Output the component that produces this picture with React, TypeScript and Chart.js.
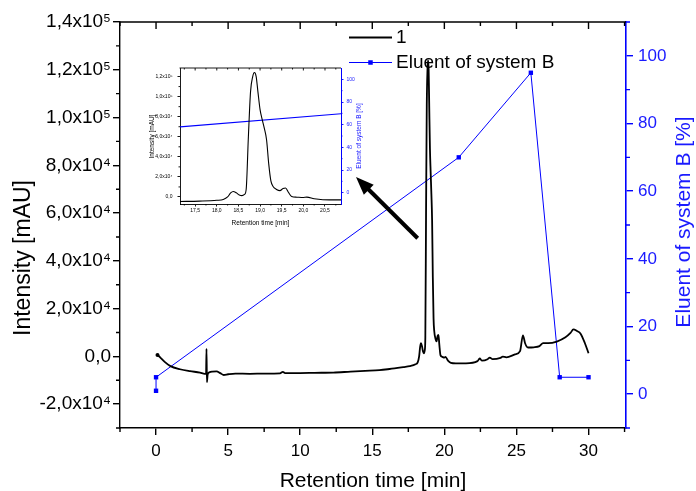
import React, { useEffect, useRef } from 'react';
import { Chart, registerables } from 'chart.js';

Chart.register(...registerables);

const FONT = '"Liberation Sans", Arial, Helvetica, sans-serif';
const BLUE = '#0000ff';
const BLUE_TEXT = '#1a1aff';

// ---------- data ----------
const seriesLabels = ['1', 'Eluent of system B'];

// chromatogram (retention time [min], intensity [mAU])
const chromTime = [
  0.1, 0.3, 0.6, 1.0, 1.66, 2.36, 3.05, 3.38, 3.47, 3.5, 3.53, 3.58, 3.7, 3.9, 4.2, 4.45, 4.7, 5.0, 5.5,
  6.5, 7.5, 8.6, 8.8, 8.95, 10.0, 11.0, 12.3, 13.5, 14.5, 15.5, 16.2, 17.15, 17.6, 18.0, 18.15, 18.25,
  18.32, 18.38, 18.45, 18.52, 18.58, 18.64, 18.68, 18.73, 18.78, 18.83, 18.87, 18.91, 18.95, 19.0, 19.05,
  19.1, 19.15, 19.2, 19.25, 19.3, 19.38, 19.46, 19.53, 19.59, 19.65, 19.73, 19.85, 20.0, 20.08, 20.25,
  20.45, 20.8, 21.5, 22.3, 22.45, 22.6, 23.0, 23.15, 23.35, 23.9, 24.05, 24.3, 24.9, 25.25, 25.45, 25.6,
  25.8, 26.2, 26.6, 26.85, 27.2, 27.8, 28.4, 28.75, 28.95, 29.2, 29.45, 29.75, 30.0,
];
const chromIntensity = [
  600, -500, -2300, -4100, -5400, -6200, -6800, -7300, -7300, 3100, -10800, -7600, -6700, -6400, -6300,
  -7000, -7800, -7500, -7200, -7300, -7200, -7100, -6500, -7000, -7000, -6900, -6800, -6400, -6100, -5800,
  -5300, -4500, -4100, -3300, -2500, 0, 4000, 5500, 4200, 2000, 1300, 2500, 8000, 60000, 105000, 120000,
  124000, 120000, 105000, 87000, 77000, 68000, 57000, 33000, 16000, 10500, 7500, 6300, 8500, 9000, 5000,
  500, -200, -500, -200, -1800, -2700, -2900, -2900, -2000, -900, -1800, -1200, -500, -1200, -600, -100,
  -400, 800, 2200, 8800, 5500, 3700, 3800, 4300, 5500, 5500, 6200, 8000, 9800, 11300, 10600, 9500, 5500,
  1300,
];

// eluent gradient (time [min], % B)
const eluentTime = [0, 0, 21, 26, 28, 30];
const eluentPercent = [1, 5, 70, 95, 5, 5];

// ---------- axes ----------
const axisTitleX = 'Retention time [min]';
const axisTitleY = 'Intensity [mAU]';
const axisTitleY2 = 'Eluent of system B [%]';

const xTicks = [0, 5, 10, 15, 20, 25, 30];
const xTickLabels = ['0', '5', '10', '15', '20', '25', '30'];
const xMinorTicks = [-2.5, 2.5, 7.5, 12.5, 17.5, 22.5, 27.5, 32.5];
const yTicks = [-20000, 0, 20000, 40000, 60000, 80000, 100000, 120000, 140000];
const yTickLabels = ['-2,0x10⁴', '0,0', '2,0x10⁴', '4,0x10⁴', '6,0x10⁴', '8,0x10⁴', '1,0x10⁵', '1,2x10⁵', '1,4x10⁵'];
const yMinorTicks = [-30000, -10000, 10000, 30000, 50000, 70000, 90000, 110000, 130000];
const y2Ticks = [0, 20, 40, 60, 80, 100];
const y2TickLabels = ['0', '20', '40', '60', '80', '100'];
const y2MinorTicks = [-10, 10, 30, 50, 70, 90, 110];

const insetXTicks = [17.5, 18, 18.5, 19, 19.5, 20, 20.5];
const insetXTickLabels = ['17,5', '18,0', '18,5', '19,0', '19,5', '20,0', '20,5'];
const insetXMinorTicks = [17.25, 17.75, 18.25, 18.75, 19.25, 19.75, 20.25, 20.75];
const insetYTicks = [0, 20000, 40000, 60000, 80000, 100000, 120000];
const insetYTickLabels = ['0,0', '2,0x10⁴', '4,0x10⁴', '6,0x10⁴', '8,0x10⁴', '1,0x10⁵', '1,2x10⁵'];
const insetYMinorTicks = [10000, 30000, 50000, 70000, 90000, 110000];
const insetY2MinorTicks = [10, 30, 50, 70, 90];

// arrow annotation (data coordinates: [time, intensity])
const arrowFrom = [18.15, 49450];
const arrowTo = [13.87, 75100];

// ---------- plugins ----------
function vText(ctx: CanvasRenderingContext2D, text: string, x: number, y: number, size: number, color: string) {
  ctx.save();
  ctx.translate(x, y);
  ctx.rotate(-Math.PI / 2);
  ctx.font = `${size}px ${FONT}`;
  ctx.fillStyle = color;
  ctx.textAlign = 'center';
  ctx.textBaseline = 'alphabetic';
  ctx.fillText(text, 0, 0);
  ctx.restore();
}

const originFrame = {
  id: 'originFrame',
  afterDraw(chart: any, _args: any, o: any) {
    const { ctx, chartArea: a } = chart;
    const sx = chart.scales.x;
    const sy = chart.scales.y;
    const sy2 = chart.scales.y2;
    ctx.save();
    ctx.lineWidth = o.lw;
    ctx.strokeStyle = '#000';
    ctx.beginPath();
    ctx.moveTo(a.left - o.lw / 2, a.top);
    ctx.lineTo(a.right, a.top);
    for (const v of o.xMinor) {
      const p = sx.getPixelForValue(v);
      if (p < a.left - 0.5 || p > a.right + 0.5) continue;
      ctx.moveTo(p, a.bottom);
      ctx.lineTo(p, a.bottom + o.minor);
      ctx.moveTo(p, a.top);
      ctx.lineTo(p, a.top + o.minor);
    }
    for (const v of o.xMajor) {
      const p = sx.getPixelForValue(v);
      ctx.moveTo(p, a.top);
      ctx.lineTo(p, a.top + o.major);
    }
    for (const v of o.yMinor) {
      const p = sy.getPixelForValue(v);
      if (p < a.top - 0.5 || p > a.bottom + 0.5) continue;
      ctx.moveTo(a.left, p);
      ctx.lineTo(a.left - o.minor, p);
    }
    ctx.stroke();
    ctx.strokeStyle = BLUE;
    ctx.beginPath();
    for (const v of o.y2Minor) {
      const p = sy2.getPixelForValue(v);
      if (p < a.top - 0.5 || p > a.bottom + 0.5) continue;
      ctx.moveTo(a.right, p);
      ctx.lineTo(a.right + o.minor, p);
    }
    ctx.stroke();

    // axis titles
    const t = o.titles;
    ctx.fillStyle = '#000';
    ctx.font = `${t.x.size}px ${FONT}`;
    ctx.textAlign = 'center';
    ctx.textBaseline = 'alphabetic';
    ctx.fillText(t.x.text, t.x.cx, t.x.base);
    vText(ctx, t.y.text, t.y.base, t.y.cy, t.y.size, '#000');
    vText(ctx, t.y2.text, t.y2.base, t.y2.cy, t.y2.size, BLUE_TEXT);

    // legend
    if (o.legend) {
      const L = o.legend;
      chart.data.datasets.forEach((ds: any, i: number) => {
        const y = L.y[i];
        ctx.strokeStyle = ds.borderColor;
        ctx.lineWidth = ds.borderWidth;
        ctx.beginPath();
        ctx.moveTo(L.x0, y);
        ctx.lineTo(L.x1, y);
        ctx.stroke();
        if (ds.pointStyle === 'rect') {
          const s = L.marker;
          ctx.fillStyle = ds.borderColor;
          ctx.fillRect((L.x0 + L.x1) / 2 - s / 2, y - s / 2, s, s);
        }
        ctx.fillStyle = '#000';
        ctx.font = `${L.size}px ${FONT}`;
        ctx.textAlign = 'left';
        ctx.textBaseline = 'middle';
        ctx.fillText(ds.label, L.tx, y + 0.5);
      });
    }

    // arrow
    if (o.arrow) {
      const x0 = sx.getPixelForValue(arrowFrom[0]);
      const y0 = sy.getPixelForValue(arrowFrom[1]);
      const x1 = sx.getPixelForValue(arrowTo[0]);
      const y1 = sy.getPixelForValue(arrowTo[1]);
      const ang = Math.atan2(y1 - y0, x1 - x0);
      const hl = o.arrow.head;
      const hw = o.arrow.headW;
      const bx = x1 - hl * Math.cos(ang);
      const by = y1 - hl * Math.sin(ang);
      ctx.strokeStyle = '#000';
      ctx.lineWidth = o.arrow.width;
      ctx.beginPath();
      ctx.moveTo(x0, y0);
      ctx.lineTo(bx + 2 * Math.cos(ang), by + 2 * Math.sin(ang));
      ctx.stroke();
      ctx.fillStyle = '#000';
      ctx.beginPath();
      ctx.moveTo(x1, y1);
      ctx.lineTo(bx + hw * Math.sin(ang), by - hw * Math.cos(ang));
      ctx.lineTo(bx - hw * Math.sin(ang), by + hw * Math.cos(ang));
      ctx.closePath();
      ctx.fill();
    }
    ctx.restore();
  },
};

function fixedTicks(values: number[]) {
  return (s: any) => {
    s.ticks = values.map((v) => ({ value: v }));
  };
}

function makeDatasets(inset: boolean) {
  return [
    {
      label: seriesLabels[0],
      data: chromTime.map((t, i) => ({ x: t, y: chromIntensity[i] })),
      borderColor: '#000',
      backgroundColor: '#000',
      borderWidth: inset ? 1.1 : 1.8,
      pointRadius: (c: any) => (!inset && c.dataIndex === 0 ? 2 : 0),
      pointBorderWidth: 0,
      cubicInterpolationMode: 'monotone',
      yAxisID: 'y',
    },
    {
      label: seriesLabels[1],
      data: eluentTime.map((t, i) => ({ x: t, y: eluentPercent[i] })),
      borderColor: BLUE,
      backgroundColor: BLUE,
      borderWidth: inset ? 1.1 : 1,
      pointStyle: 'rect',
      pointRadius: inset ? 0 : 3.1,
      pointBorderWidth: 0,
      yAxisID: 'y2',
    },
  ];
}

export default function App() {
  const mainRef = useRef<HTMLCanvasElement | null>(null);
  const insetRef = useRef<HTMLCanvasElement | null>(null);

  useEffect(() => {
    const main = new Chart(mainRef.current as HTMLCanvasElement, {
      type: 'line',
      data: { datasets: makeDatasets(false) as any },
      options: {
        responsive: false,
        animation: false,
        devicePixelRatio: 1,
        layout: { padding: { top: 22, left: 0, right: 0, bottom: 0 } },
        plugins: {
          legend: { display: false },
          tooltip: { enabled: false },
          originFrame: {
            lw: 1.4,
            major: 7,
            minor: 4,
            xMajor: xTicks,
            xMinor: xMinorTicks,
            yMinor: yMinorTicks,
            y2Minor: y2MinorTicks,
            titles: {
              x: { text: axisTitleX, cx: 373, base: 486.5, size: 21 },
              y: { text: axisTitleY, base: 30, cy: 258, size: 23 },
              y2: { text: axisTitleY2, base: 690, cy: 222, size: 21 },
            },
            legend: { x0: 349, x1: 392, tx: 396, y: [37.5, 62.5], size: 19, marker: 4.5 },
            arrow: { width: 4, head: 18, headW: 7 },
          },
        } as any,
        scales: {
          x: {
            type: 'linear',
            position: 'bottom',
            min: -2.5,
            max: 32.6,
            afterBuildTicks: fixedTicks(xTicks),
            afterFit: (s: any) => {
              s.height = 63;
            },
            ticks: {
              callback: (_v: any, i: number) => xTickLabels[i],
              font: { family: FONT, size: 17 },
              color: '#000',
              padding: 6,
              maxRotation: 0,
              autoSkip: false,
            },
            grid: { drawOnChartArea: false, drawTicks: true, tickLength: 7, color: '#000', lineWidth: 1.4 },
            border: { display: true, color: '#000', width: 1.4 },
          },
          y: {
            type: 'linear',
            position: 'left',
            min: -30000,
            max: 140000,
            afterBuildTicks: fixedTicks(yTicks),
            afterFit: (s: any) => {
              s.width = 120;
            },
            ticks: {
              callback: (_v: any, i: number) => yTickLabels[i],
              font: { family: FONT, size: 19 },
              color: '#000',
              padding: 2,
              autoSkip: false,
            },
            grid: { drawOnChartArea: false, drawTicks: true, tickLength: 7, color: '#000', lineWidth: 1.4 },
            border: { display: true, color: '#000', width: 1.4 },
          },
          y2: {
            type: 'linear',
            position: 'right',
            min: -10,
            max: 110,
            afterBuildTicks: fixedTicks(y2Ticks),
            afterFit: (s: any) => {
              s.width = 70;
            },
            ticks: {
              callback: (_v: any, i: number) => y2TickLabels[i],
              font: { family: FONT, size: 17 },
              color: BLUE_TEXT,
              padding: 5,
              autoSkip: false,
            },
            grid: { drawOnChartArea: false, drawTicks: true, tickLength: 7, color: BLUE, lineWidth: 1.4 },
            border: { display: true, color: BLUE, width: 1.6 },
          },
        },
      },
      plugins: [originFrame],
    });

    const inset = new Chart(insetRef.current as HTMLCanvasElement, {
      type: 'line',
      data: { datasets: makeDatasets(true) as any },
      options: {
        responsive: false,
        animation: false,
        devicePixelRatio: 1,
        layout: { padding: { top: 10, left: 0, right: 0, bottom: 0 } },
        plugins: {
          legend: { display: false },
          tooltip: { enabled: false },
          originFrame: {
            lw: 0.9,
            major: 2.5,
            minor: 1.5,
            xMajor: insetXTicks,
            xMinor: insetXMinorTicks,
            yMinor: insetYMinorTicks,
            y2Minor: insetY2MinorTicks,
            titles: {
              x: { text: axisTitleX, cx: 130.5, base: 166.5, size: 6.5 },
              y: { text: axisTitleY, base: 24, cy: 78.5, size: 6.5 },
              y2: { text: axisTitleY2, base: 231, cy: 78, size: 6.5 },
            },
          },
        } as any,
        scales: {
          x: {
            type: 'linear',
            position: 'bottom',
            min: 17.15,
            max: 20.87,
            afterBuildTicks: fixedTicks(insetXTicks),
            afterFit: (s: any) => {
              s.height = 29;
            },
            ticks: {
              callback: (_v: any, i: number) => insetXTickLabels[i],
              font: { family: FONT, size: 5 },
              color: '#000',
              padding: 1.5,
              maxRotation: 0,
              autoSkip: false,
            },
            grid: { drawOnChartArea: false, drawTicks: true, tickLength: 2.5, color: '#000', lineWidth: 0.9 },
            border: { display: true, color: '#000', width: 0.9 },
          },
          y: {
            type: 'linear',
            position: 'left',
            min: -7000,
            max: 128500,
            afterBuildTicks: fixedTicks(insetYTicks),
            afterFit: (s: any) => {
              s.width = 50;
            },
            ticks: {
              callback: (_v: any, i: number) => insetYTickLabels[i],
              font: { family: FONT, size: 5 },
              color: '#000',
              padding: 5,
              autoSkip: false,
            },
            grid: { drawOnChartArea: false, drawTicks: true, tickLength: 2.5, color: '#000', lineWidth: 0.9 },
            border: { display: true, color: '#000', width: 0.9 },
          },
          y2: {
            type: 'linear',
            position: 'right',
            min: -10,
            max: 110,
            afterBuildTicks: fixedTicks(y2Ticks),
            afterFit: (s: any) => {
              s.width = 39;
            },
            ticks: {
              callback: (_v: any, i: number) => y2TickLabels[i],
              font: { family: FONT, size: 5 },
              color: BLUE_TEXT,
              padding: 3,
              autoSkip: false,
            },
            grid: { drawOnChartArea: false, drawTicks: true, tickLength: 2.5, color: BLUE, lineWidth: 0.9 },
            border: { display: true, color: BLUE, width: 1 },
          },
        },
      },
      plugins: [originFrame],
    });

    return () => {
      main.destroy();
      inset.destroy();
    };
  }, []);

  return (
    <div style={{ position: 'fixed', left: 0, top: 0, width: 696, height: 491, background: '#fff' }}>
      <canvas ref={mainRef} width={696} height={491} style={{ position: 'absolute', left: 0, top: 0 }} />
      <canvas ref={insetRef} width={250} height={175} style={{ position: 'absolute', left: 130, top: 58 }} />
    </div>
  );
}
